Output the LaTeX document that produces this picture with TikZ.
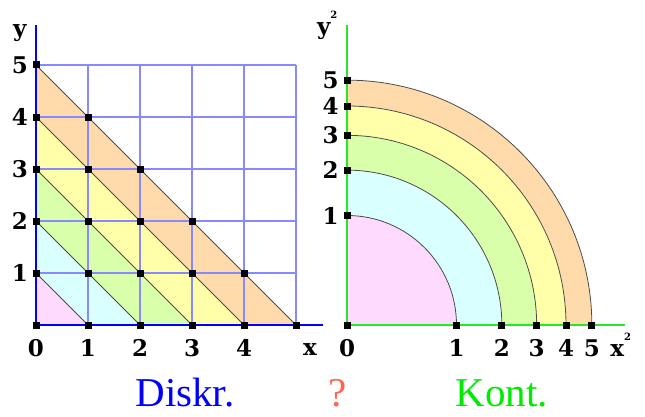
\documentclass[tikz,border=0pt]{standalone}
\usepackage{fontspec}
\setmainfont{DejaVu Serif}
\newfontfamily\captionfont{Liberation Serif}
\usetikzlibrary{positioning}
\definecolor{gridblue}{RGB}{136,136,255}
\definecolor{axisblue}{RGB}{0,0,255}
\definecolor{axisgreen}{RGB}{40,230,40}
\definecolor{bandpink}{RGB}{255,218,255}
\definecolor{bandcyan}{RGB}{218,255,255}
\definecolor{bandgreen}{RGB}{218,255,170}
\definecolor{bandyellow}{RGB}{255,255,170}
\definecolor{bandorange}{RGB}{255,218,170}
\definecolor{qred}{RGB}{255,100,80}
\definecolor{kgreen}{RGB}{0,235,0}
\newcommand{\sqr}{\raisebox{16pt}{\fontsize{10}{10}\selectfont 2}}

\begin{document}
\begin{tikzpicture}[x=1pt, y=1pt,
    gridline/.style={draw=gridblue, line width=1.5pt},
    levelline/.style={draw=black!70, line width=0.8pt},
    dot/.style={fill=black, minimum size=7pt, inner sep=0pt},
    lbl/.style={font=\bfseries\fontsize{23}{23}\selectfont, inner sep=0pt},
    caption/.style={font=\captionfont\fontsize{41}{41}\selectfont, anchor=base, inner sep=0pt}]
\useasboundingbox (0,0) rectangle (645,416);

% Diskrete Variante: Gitter mit Diagonalen
\begin{scope}[shift={(36,91)}, x=52pt, y=52pt]
  \foreach \n/\c in {5/bandorange, 4/bandyellow, 3/bandgreen, 2/bandcyan, 1/bandpink}
    \fill[\c] (0,0) -- (\n,0) -- (0,\n) -- cycle;
  \foreach \i in {1,...,5} {
    \draw[gridline] (\i,0) -- (\i,5);
    \draw[gridline] (0,\i) -- (5,\i);
  }
  \foreach \n in {1,...,5}
    \draw[levelline] (0,\n) -- (\n,0);
  \coordinate (L0) at (0,0);
  \coordinate (Lx) at (5.52,0);
  \coordinate (Ly) at (0,5.77);
  \draw[axisblue, line width=1.6pt] (L0) -- (Lx);
  \draw[axisblue, line width=1.6pt] (L0) -- (Ly);
  \foreach \i in {0,...,5} {
    \pgfmathtruncatemacro\jmax{5-\i}
    \foreach \j in {0,...,\jmax}
      \node[dot] (d-\i-\j) at (\i,\j) {};
  }
  % Beschriftung
  \foreach \i in {0,...,4}
    \node[lbl] (lx-\i) at (\i,-0.45) {\i};
  \node[lbl] (lx) at (5.27,-0.48) {x};
  \foreach \j in {1,...,5}
    \node[lbl] (ly-\j) at (-0.31,\j) {\j};
  \node[lbl] (ly) at (-0.31,5.62) {y};
\end{scope}

% Kontinuierliche Variante: Viertelkreise
\begin{scope}[shift={(347,91)}, x=109.5pt, y=109.5pt]
  \foreach \n/\c in {5/bandorange, 4/bandyellow, 3/bandgreen, 2/bandcyan, 1/bandpink}
    \fill[\c] (0,0) -- ({sqrt(\n)},0) arc[start angle=0, end angle=90, radius={sqrt(\n)}] -- cycle;
  \foreach \n in {1,...,5}
    \draw[levelline] ({sqrt(\n)},0) arc[start angle=0, end angle=90, radius={sqrt(\n)}];
  \coordinate (R0) at (0,0);
  \coordinate (Rx) at (2.54,0);
  \coordinate (Ry) at (0,2.74);
  \draw[axisgreen, line width=1.4pt] (R0) -- (Rx);
  \draw[axisgreen, line width=1.4pt] (R0) -- (Ry);
  \node[dot] (r-0) at (0,0) {};
  \foreach \n in {1,...,5} {
    \node[dot] (rx-\n) at ({sqrt(\n)},0) {};
    \node[dot] (ry-\n) at (0,{sqrt(\n)}) {};
    \node[lbl] (mx-\n) at ({sqrt(\n)},-0.21) {\n};
    \node[lbl] (my-\n) at (-0.15,{sqrt(\n)}) {\n};
  }
  \node[lbl] (mx-0) at (0,-0.21) {0};
  \node[lbl, anchor=base] (mx) at (2.50,-0.29) {x\sqr};
  \node[lbl, anchor=base] (my) at (-0.18,2.65) {y\sqr};
\end{scope}

% Unterschrift
\node[caption, text=axisblue] (diskr) at (185,10) {Diskr.};
\node[caption, text=qred] (frage) at (338,10) {?};
\node[caption, text=kgreen] (kont) at (502,10) {Kont.};
\end{tikzpicture}
\end{document}
